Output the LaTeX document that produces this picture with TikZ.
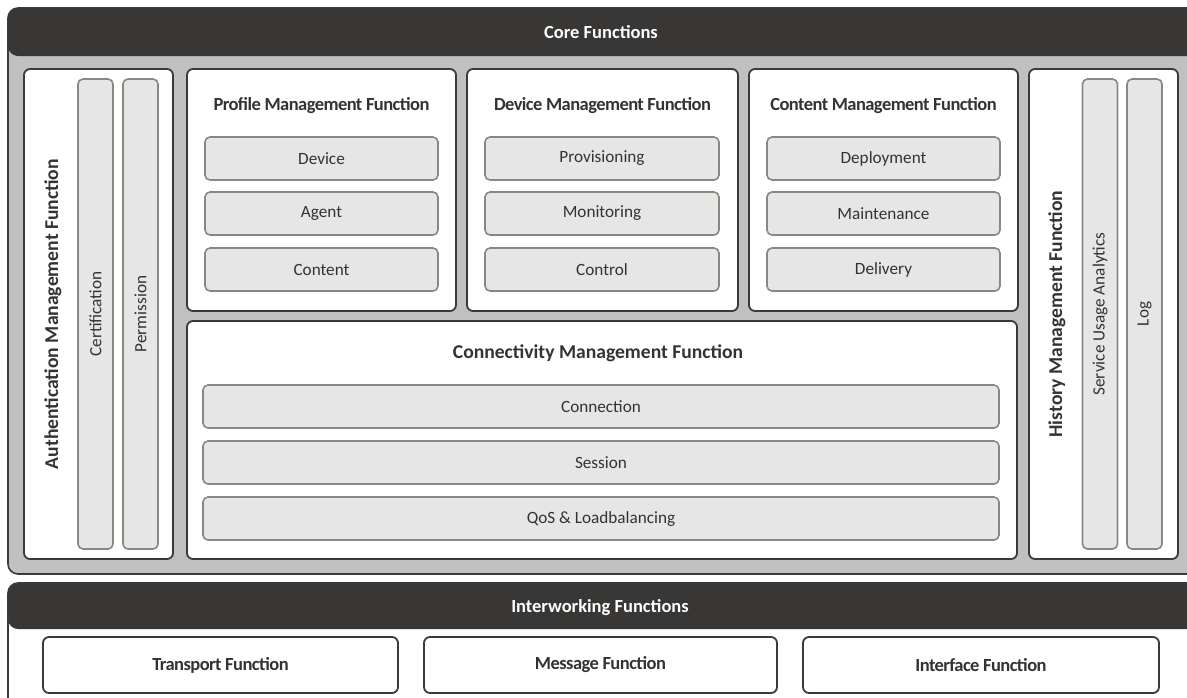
\documentclass[tikz,border=0pt]{standalone}
\usepackage{fontspec}
\setmainfont{Carlito}
\newfontfamily\condfont{Carlito}[LetterSpace=-3]
\definecolor{darkbar}{HTML}{393735}
\definecolor{grayfill}{HTML}{C0C0C0}
\definecolor{boxline}{HTML}{3A3A3A}
\definecolor{subline}{HTML}{8A877F}
\definecolor{subfill}{HTML}{E6E6E6}
\definecolor{txt}{HTML}{333333}
\tikzset{
  frame/.style={draw=boxline, line width=1.6pt, rounded corners=10pt, inner sep=0pt},
  wbox/.style={draw=boxline, fill=white, line width=1.8pt, rounded corners=6pt, inner sep=0pt},
  sbox/.style={draw=subline, fill=subfill, line width=1.6pt, rounded corners=5pt, inner sep=0pt, text=txt, font=\fontsize{17.2}{18}\selectfont},
  itm/.style={text=txt, font=\fontsize{17.2}{18}\selectfont},
  hdr/.style={text=white, font=\bfseries\fontsize{18.5}{19}\selectfont},
  ttl/.style={text=txt, font=\bfseries\fontsize{19.6}{20}\selectfont},
  cttl/.style={text=txt, font=\condfont\bfseries\fontsize{18.5}{19}\selectfont},
}
\begin{document}
\begin{tikzpicture}[x=1pt,y=-1pt]
\useasboundingbox (0,0) rectangle (1187,697);
% Core frame
\node[frame, fill=grayfill, minimum width=1192pt, minimum height=566pt,
  path picture={\fill[darkbar] (path picture bounding box.north west) rectangle ([yshift=-48pt]path picture bounding box.north east);}]
  (core) at (604,291) {};
\node[hdr] (corettl) at (601,32.5) {Core Functions};
% Authentication
\node[wbox, minimum width=149pt, minimum height=490pt] (auth) at (98.5,314) {};
\node[sbox, minimum width=35pt, minimum height=470pt] (cert) at (95.5,314) {};
\node[sbox, minimum width=35pt, minimum height=470pt] (perm) at (140.5,314) {};
\node[ttl, rotate=90] (authttl) at (53,314) {Authentication Management Function};
\node[itm, rotate=90] (certt) at (cert) {Certification};
\node[itm, rotate=90] (permt) at (perm) {Permission};
% Profile
\node[wbox, minimum width=269pt, minimum height=242pt] (prof) at (321.5,190) {};
\node[cttl] (profttl) at (321.5,106) {Profile Management Function};
\node[sbox, minimum width=233pt, minimum height=43pt] (p1) at (321.5,158.5) {Device};
\node[sbox, minimum width=233pt, minimum height=43pt] (p2) at (321.5,213.5) {Agent};
\node[sbox, minimum width=233pt, minimum height=43pt] (p3) at (321.5,269.5) {Content};
% Device management
\node[wbox, minimum width=271pt, minimum height=242pt] (dev) at (602.5,190) {};
\node[cttl] (devttl) at (602.5,106) {Device Management Function};
\node[sbox, minimum width=234pt, minimum height=43pt] (d1) at (602,158.5) {Provisioning};
\node[sbox, minimum width=234pt, minimum height=43pt] (d2) at (602,213.5) {Monitoring};
\node[sbox, minimum width=234pt, minimum height=43pt] (d3) at (602,269.5) {Control};
% Content management
\node[wbox, minimum width=269pt, minimum height=242pt] (cont) at (883.5,190) {};
\node[cttl] (contttl) at (883.5,106) {Content Management Function};
\node[sbox, minimum width=233pt, minimum height=43pt] (c1) at (883.5,158.5) {Deployment};
\node[sbox, minimum width=233pt, minimum height=43pt] (c2) at (883.5,213.5) {Maintenance};
\node[sbox, minimum width=233pt, minimum height=43pt] (c3) at (883.5,269.5) {Delivery};
% Connectivity
\node[wbox, minimum width=830pt, minimum height=238pt] (conn) at (602,440) {};
\node[ttl] (connttl) at (598,353) {Connectivity Management Function};
\node[sbox, minimum width=796pt, minimum height=43pt] (k1) at (601,406.5) {Connection};
\node[sbox, minimum width=796pt, minimum height=43pt] (k2) at (601,462.5) {Session};
\node[sbox, minimum width=796pt, minimum height=43pt] (k3) at (601,518.5) {QoS \& Loadbalancing};
% History
\node[wbox, minimum width=149pt, minimum height=490pt] (hist) at (1103.5,314) {};
\node[sbox, minimum width=35pt, minimum height=470pt] (sua) at (1100,314) {};
\node[sbox, minimum width=35pt, minimum height=470pt] (logb) at (1144.5,314) {};
\node[ttl, rotate=90] (histttl) at (1057,314) {History Management Function};
\node[itm, rotate=90] (suat) at (sua) {Service Usage Analytics};
\node[itm, rotate=90] (logt) at (logb) {Log};
% Interworking frame
\node[frame, fill=white, minimum width=1192pt, minimum height=137pt,
  path picture={\fill[darkbar] (path picture bounding box.north west) rectangle ([yshift=-46pt]path picture bounding box.north east);}]
  (inter) at (604,651.5) {};
\node[hdr] (interttl) at (600,607.5) {Interworking Functions};
\node[wbox, minimum width=355pt, minimum height=56pt] (tf) at (220.5,665) {};
\node[cttl] (tft) at (tf) {Transport Function};
\node[wbox, minimum width=353pt, minimum height=56pt] (mf) at (600.5,665) {};
\node[cttl] (mft) at (mf) {Message Function};
\node[wbox, minimum width=356pt, minimum height=56pt] (if) at (981,665) {};
\node[cttl] (ift) at (if) {Interface Function};
\end{tikzpicture}
\end{document}
